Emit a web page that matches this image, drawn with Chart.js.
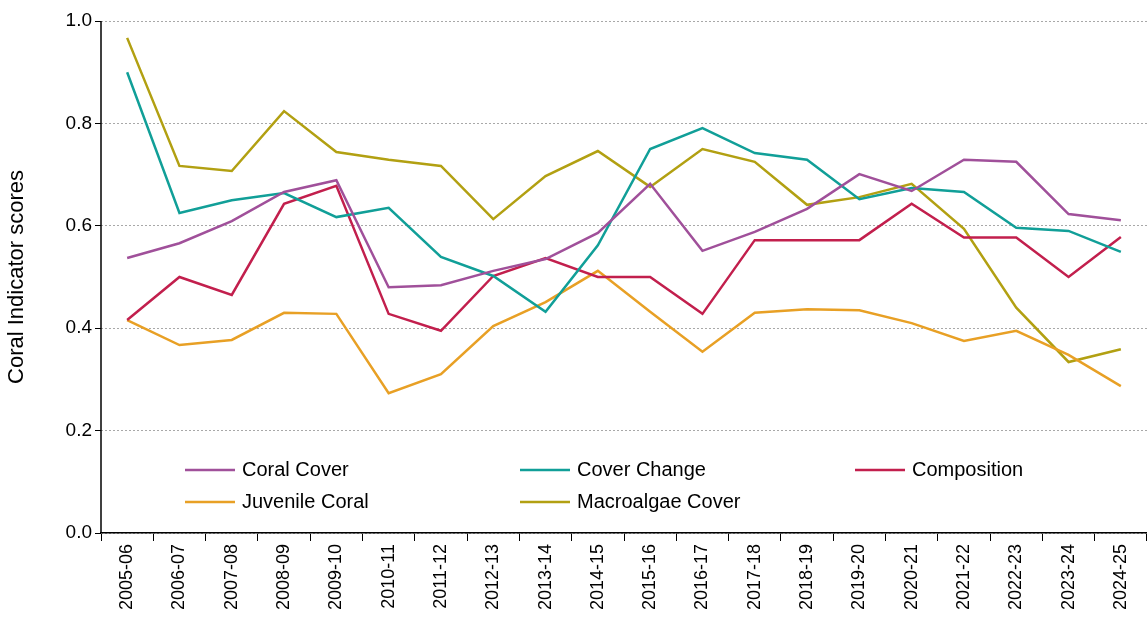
<!DOCTYPE html>
<html><head><meta charset="utf-8">
<script src="https://cdn.jsdelivr.net/npm/chart.js@4"></script>
<style>body{margin:0;background:#fff}#wrap{width:1147px;height:627px}</style>
</head><body><div id="wrap"><canvas id="c"></canvas></div>
<script>
var years = ["2005-06","2006-07","2007-08","2008-09","2009-10","2010-11","2011-12","2012-13","2013-14","2014-15","2015-16","2016-17","2017-18","2018-19","2019-20","2020-21","2021-22","2022-23","2023-24","2024-25"];
var coralCover = [0.537,0.566,0.609,0.666,0.689,0.48,0.484,0.512,0.535,0.586,0.682,0.551,0.588,0.633,0.701,0.668,0.729,0.725,0.623,0.611];
var coverChange = [0.90,0.625,0.65,0.664,0.617,0.635,0.539,0.502,0.432,0.562,0.75,0.791,0.742,0.729,0.652,0.674,0.666,0.596,0.59,0.549];
var composition = [0.416,0.5,0.465,0.643,0.678,0.428,0.395,0.502,0.537,0.5,0.5,0.428,0.572,0.572,0.572,0.643,0.577,0.577,0.5,0.578];
var juvenile = [0.416,0.367,0.377,0.43,0.428,0.273,0.31,0.404,0.451,0.512,0.432,0.354,0.43,0.437,0.435,0.41,0.375,0.395,0.348,0.287];
var macroalgae = [0.967,0.717,0.707,0.824,0.744,0.729,0.717,0.613,0.697,0.746,0.676,0.75,0.725,0.641,0.656,0.682,0.594,0.44,0.334,0.359];

function ds(label, data, color) {
    return {label: label, data: data, borderColor: color, backgroundColor: color, borderWidth: 2.5, pointRadius: 0, tension: 0};
}

var legendPlugin = {
    id: 'gridLegend',
    afterDraw: function(chart) {
        var ctx = chart.ctx;
        var a = chart.chartArea;
        var cols = [185, 520, 855], rows = [470, 502];
        ctx.save();
        // solid y axis line
        ctx.strokeStyle = '#000';
        ctx.lineWidth = 1.5;
        ctx.beginPath(); ctx.moveTo(a.left, a.top); ctx.lineTo(a.left, a.bottom); ctx.stroke();
        ctx.font = '20px "Liberation Sans", Arial, sans-serif';
        ctx.textBaseline = 'middle';
        chart.data.datasets.forEach(function(d, i) {
            var x = cols[i % 3], y = rows[Math.floor(i / 3)];
            ctx.strokeStyle = d.borderColor;
            ctx.lineWidth = 2.5;
            ctx.beginPath(); ctx.moveTo(x, y); ctx.lineTo(x + 50, y); ctx.stroke();
            ctx.fillStyle = '#000';
            ctx.fillText(d.label, x + 57, y);
        });
        ctx.restore();
    }
};

var font = '"Liberation Sans", Arial';
var ctx = document.getElementById('c').getContext('2d');
new Chart(ctx, {
    type: 'line',
    data: {
        labels: years,
        datasets: [
            ds('Coral Cover', coralCover, '#a0509a'),
            ds('Cover Change', coverChange, '#119f98'),
            ds('Composition', composition, '#c21f4d'),
            ds('Juvenile Coral', juvenile, '#e8a025'),
            ds('Macroalgae Cover', macroalgae, '#b2a012')
        ]
    },
    options: {
        responsive: true, maintainAspectRatio: false, animation: false,
        layout: {padding: {top: 21, right: 0, left: 4}},
        plugins: {legend: {display: false}, tooltip: {enabled: false}},
        scales: {
            x: {
                offset: true,
                afterFit: function(s) { s.height = 94; },
                grid: {offset: true, drawOnChartArea: false, color: '#000', tickLength: 8},
                border: {color: '#000', width: 1.5},
                ticks: {color: '#000', font: {size: 18, family: font}, maxRotation: 90, minRotation: 90, autoSkip: false}
            },
            y: {
                min: 0, max: 1,
                afterFit: function(s) { s.width = 97; },
                ticks: {stepSize: 0.2, color: '#000', font: {size: 19, family: font}, callback: function(v){return v.toFixed(1);}},
                grid: {color: '#a8a8a8', lineWidth: 1, tickLength: 6, tickColor: '#000'},
                border: {display: false, dash: [2, 2]},
                title: {display: true, text: 'Coral Indicator scores', color: '#000', font: {size: 22, family: font}, padding: {top: 0, bottom: 8}}
            }
        }
    },
    plugins: [legendPlugin]
});
</script></body></html>
